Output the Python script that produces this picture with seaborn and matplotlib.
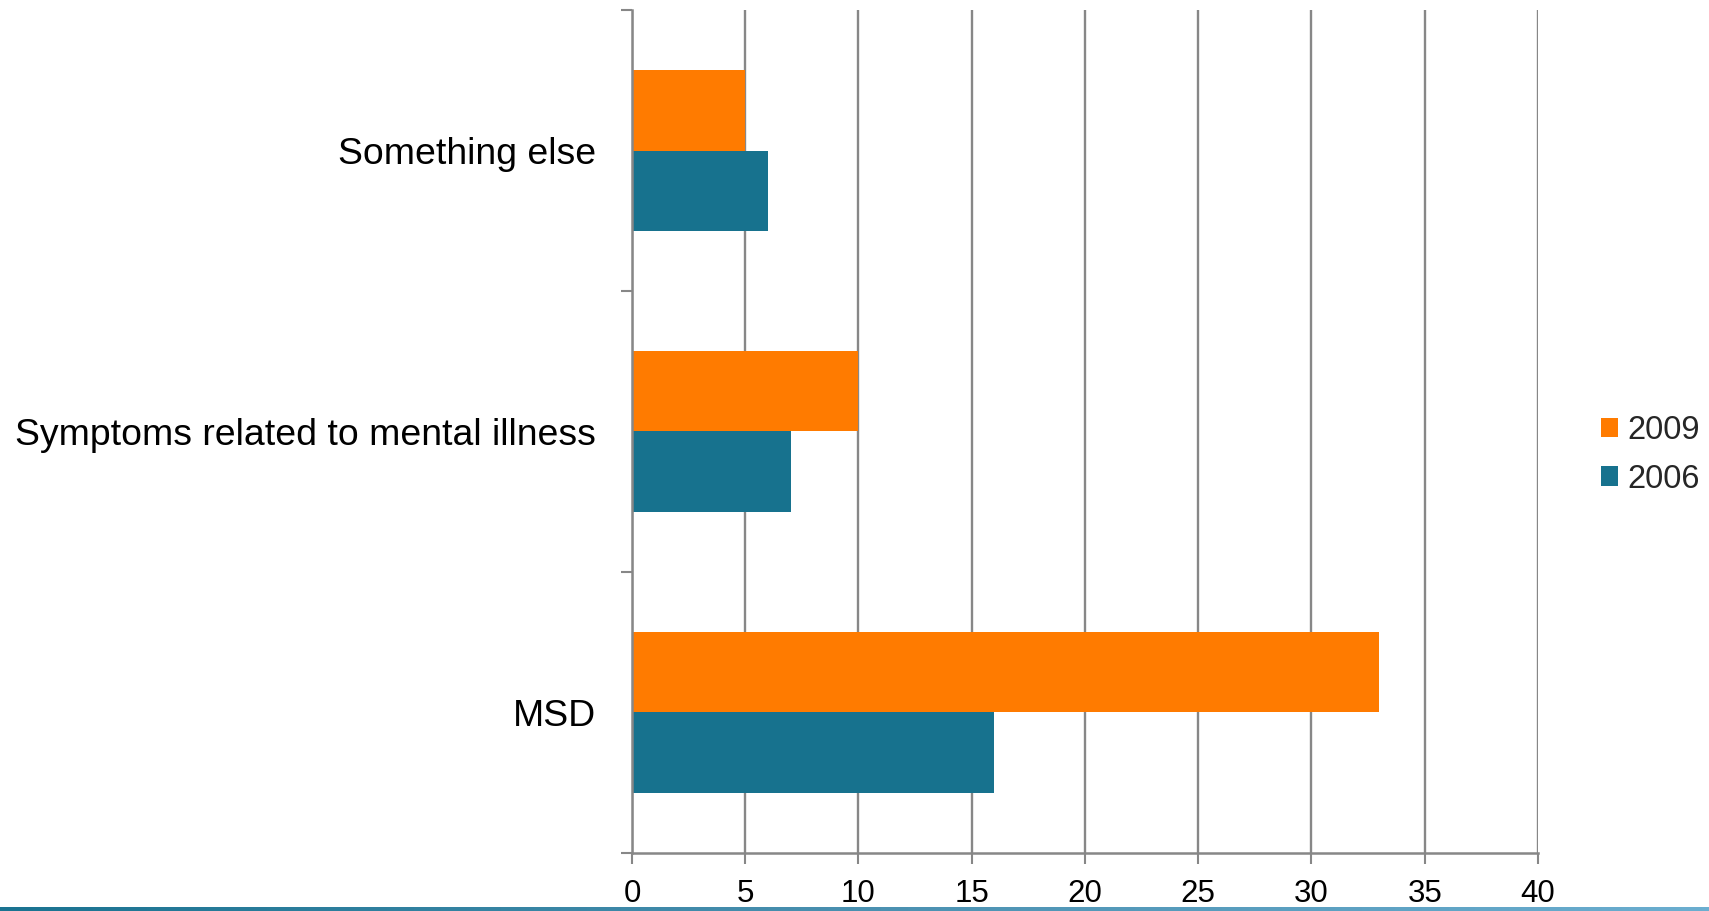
import numpy as np
import pandas as pd
import matplotlib
matplotlib.use("Agg")
import matplotlib.pyplot as plt
from matplotlib.colors import LinearSegmentedColormap
from matplotlib.ticker import FixedLocator
import seaborn as sns

# Categories and series values
categories = ["Something else", "Symptoms related to mental illness", "MSD"]
years = ["2009", "2006"]
values_2009 = [5, 10, 33]
values_2006 = [6, 7, 16]
x_ticks = [0, 5, 10, 15, 20, 25, 30, 35, 40]

df = pd.DataFrame({
    "category": categories * 2,
    "year": [years[0]] * 3 + [years[1]] * 3,
    "value": values_2009 + values_2006,
})

sns.set_theme(style="white")
plt.rcParams["font.family"] = ["Liberation Sans", "DejaVu Sans"]

palette = {"2009": "#FF7B00", "2006": "#17728E"}
grid_color = "#878787"

fig = plt.figure(figsize=(17.09, 9.11), dpi=100)
ax = fig.add_axes([0.3698, 0.0637, 0.5301, 0.9253])

sns.barplot(data=df, y="category", x="value", hue="year",
            order=categories, hue_order=years, palette=palette,
            orient="h", width=0.571, saturation=1, ax=ax,
            edgecolor="none", linewidth=0)

ax.set_xlim(0, 40)
ax.set_ylim(2.5, -0.5)
ax.set_xticks(x_ticks)
ax.set_xticklabels([str(t) for t in x_ticks], fontsize=22.5, color="black")
ax.set_axisbelow(True)
ax.grid(axis="x", color=grid_color, linewidth=1.7)
ax.grid(axis="y", visible=False)

# Category labels centred on each band, tick marks on band boundaries
ax.set_yticks(range(len(categories)))
ax.set_yticklabels(categories, fontsize=26.9, color="black")
ax.yaxis.set_minor_locator(FixedLocator([-0.5, 0.5, 1.5, 2.5]))
ax.tick_params(axis="y", which="major", length=0, pad=26)
ax.tick_params(axis="y", which="minor", length=8, width=1.5,
               color=grid_color, direction="out", left=True)
ax.tick_params(axis="x", which="major", length=8, width=1.5,
               color=grid_color, direction="out", bottom=True, pad=11)

ax.set_xlabel("")
ax.set_ylabel("")
for side in ["top", "right"]:
    ax.spines[side].set_visible(False)
for side in ["left", "bottom"]:
    ax.spines[side].set_color(grid_color)
    ax.spines[side].set_linewidth(1.8)

handles, labels = ax.get_legend_handles_labels()
ax.legend(handles, labels, loc="center left", bbox_to_anchor=(0.929, 0.501),
          bbox_transform=fig.transFigure, frameon=False, fontsize=23.5,
          handlelength=0.52, handleheight=0.52, handletextpad=0.3,
          labelspacing=0.55, borderaxespad=0)

# Gradient rule along the bottom edge
band = fig.add_axes([0, 0, 1, 4 / 911])
cmap = LinearSegmentedColormap.from_list("rule", ["#1A7391", "#4A90B0", "#6BAED0"])
band.imshow(np.linspace(0, 1, 512)[None, :], aspect="auto", cmap=cmap)
band.set_axis_off()

fig.savefig("out.png", dpi=100)
